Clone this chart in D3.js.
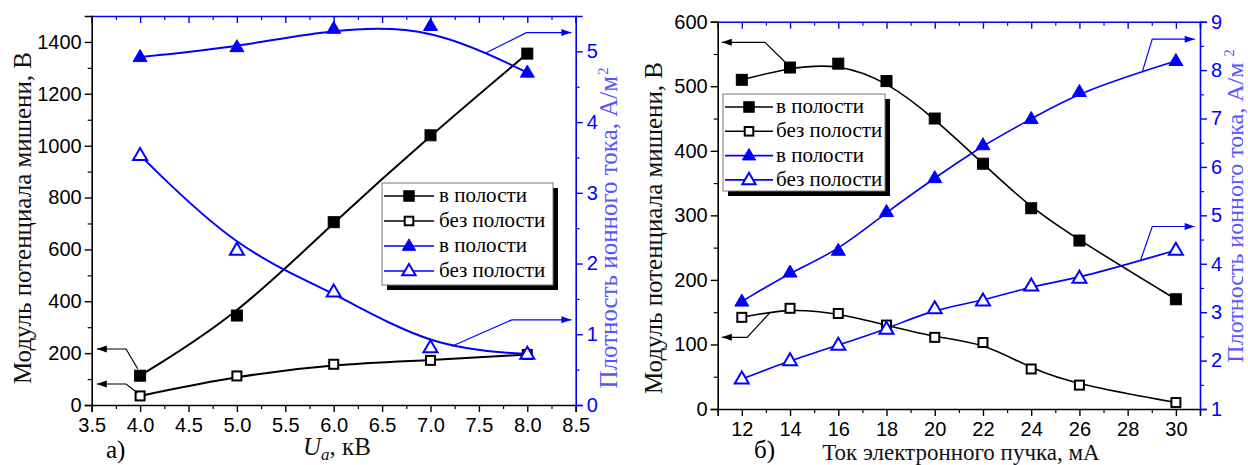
<!DOCTYPE html>
<html><head><meta charset="utf-8">
<script src="https://cdn.jsdelivr.net/npm/d3@7/dist/d3.min.js"></script>
<style>body{margin:0;background:#fff}svg{display:block}</style>
</head><body>
<svg id="c" width="1248" height="465"></svg>
<script>
// ---------- Panel (a) data ----------
const uaKV = [4.0, 5.0, 6.0, 7.0, 8.0];
const potWithCavityA = [113, 345, 705, 1040, 1355];
const potNoCavityA = [35, 112, 157, 172, 195];
const densWithCavityA = [4.92, 5.06, 5.32, 5.36, 4.70];
const densNoCavityA = [3.53, 2.19, 1.60, 0.81, 0.72];
const xTicksA = [3.5, 4.0, 4.5, 5.0, 5.5, 6.0, 6.5, 7.0, 7.5, 8.0, 8.5];
const yLTicksA = [0, 200, 400, 600, 800, 1000, 1200, 1400];
const yRTicksA = [0, 1, 2, 3, 4, 5];

// ---------- Panel (б) data ----------
const beamCurrent = [12, 14, 16, 18, 20, 22, 24, 26, 30];
const potWithCavityB = [510, 529, 535, 508, 450, 380, 311, 261, 170];
const potNoCavityB = [142, 156, 148, 130, 111, 103, 62, 37, 10];
const densWithCavityB = [3.22, 3.82, 4.27, 5.07, 5.77, 6.45, 6.99, 7.55, 8.19];
const densNoCavityB = [1.62, 2.00, 2.32, 2.65, 3.07, 3.23, 3.54, 3.70, 4.28];
const xTicksB = [12, 14, 16, 18, 20, 22, 24, 26, 28, 30];
const yLTicksB = [0, 100, 200, 300, 400, 500, 600];
const yRTicksB = [1, 2, 3, 4, 5, 6, 7, 8, 9];

const legendNames = ["в полости", "без полости", "в полости", "без полости"];

// annotation arrows (data units of the axis they point to)
const arrowsA = [
  {axis: "L", pts: [[3.975, 140], [3.855, 216], [3.553, 216]]},
  {axis: "L", pts: [[3.975, 46], [3.855, 81], [3.553, 81]]},
  {axis: "R", pts: [[7.56, 4.97], [7.99, 5.265], [8.455, 5.265]]},
  {axis: "R", pts: [[7.22, 0.83], [7.84, 1.204], [8.455, 1.204]]}
];
const arrowsB = [
  {axis: "L", pts: [[13.78, 538], [12.96, 568], [11.17, 568]]},
  {axis: "L", pts: [[13.16, 149], [12.22, 111], [11.17, 111]]},
  {axis: "R", pts: [[28.61, 7.97], [29.02, 8.64], [30.78, 8.64]]},
  {axis: "R", pts: [[28.54, 4.08], [29.02, 4.77], [30.78, 4.77]]}
];

const BLUE = "#0000ff";
const SANS = "'Liberation Sans', Arial, sans-serif";
const SERIF = "'Liberation Serif', 'Times New Roman', serif";
const svg = d3.select("#c");

function styleAxis(sel, color, fs) {
  sel.select(".domain").attr("stroke", color).attr("stroke-width", 1.6);
  sel.selectAll(".tick line").attr("stroke", color).attr("stroke-width", 1.4);
  sel.selectAll(".tick text").attr("fill", color).style("font-family", SANS).style("font-size", fs + "px");
}

function marker(g, type, filled, color, cx, cy, scale) {
  const s = scale || 1;
  if (type === "sq") {
    const a = filled ? 11 * s : 9 * s;
    g.append("rect").attr("x", cx - a / 2).attr("y", cy - a / 2).attr("width", a).attr("height", a)
      .attr("fill", filled ? color : "#fff").attr("stroke", color).attr("stroke-width", filled ? 1 : 2);
  } else {
    const w = 14 * s, h = 12 * s;
    const path = `M${cx},${cy - h * 0.62}L${cx + w / 2},${cy + h * 0.38}L${cx - w / 2},${cy + h * 0.38}Z`;
    g.append("path").attr("d", path).attr("fill", filled ? color : "#fff")
      .attr("stroke", color).attr("stroke-width", filled ? 1 : 2).attr("stroke-linejoin", "miter");
  }
}

function arrow(g, pts, color) {
  g.append("path").attr("d", d3.line()(pts)).attr("fill", "none").attr("stroke", color).attr("stroke-width", 1.2);
  const [p1, p2] = [pts[pts.length - 2], pts[pts.length - 1]];
  const ang = Math.atan2(p2[1] - p1[1], p2[0] - p1[0]);
  const L = 10, W = 3.5;
  const bx = p2[0] - L * Math.cos(ang), by = p2[1] - L * Math.sin(ang);
  const nx = -Math.sin(ang) * W, ny = Math.cos(ang) * W;
  g.append("path").attr("d", `M${p2[0]},${p2[1]}L${bx + nx},${by + ny}L${bx - nx},${by - ny}Z`).attr("fill", color);
}

function drawPanel(p) {
  const g = svg.append("g");
  const x = d3.scaleLinear().domain(p.xDomain).range([p.left, p.right]);
  const yL = d3.scaleLinear().domain(p.yLDomain).range([p.bottom, p.top]);
  const yR = d3.scaleLinear().domain(p.yRDomain).range([p.bottom, p.top]);

  const minor = (ax, vals, len, color, tr) => {
    const a = g.append("g").attr("transform", tr).call(ax.tickValues(vals).tickSize(len).tickFormat(""));
    a.select(".domain").remove();
    a.selectAll(".tick line").attr("stroke", color).attr("stroke-width", 1.2);
  };
  minor(d3.axisBottom(x), p.xMinor, 4, "#000", `translate(0,${p.bottom})`);
  minor(d3.axisTop(x), p.xMinor, -4, BLUE, `translate(0,${p.top})`);
  minor(d3.axisLeft(yL), p.yLMinor, 4, "#000", `translate(${p.left},0)`);
  minor(d3.axisRight(yR), p.yRMinor, 4, BLUE, `translate(${p.right},0)`);

  g.append("g").attr("transform", `translate(0,${p.bottom})`)
    .call(d3.axisBottom(x).tickValues(p.xTicks).tickFormat(p.xFmt).tickSize(7).tickPadding(6))
    .call(s => styleAxis(s, "#000", 20));
  g.append("g").attr("transform", `translate(0,${p.top})`)
    .call(d3.axisTop(x).tickValues(p.xTicks).tickFormat("").tickSize(-7))
    .call(s => styleAxis(s, BLUE, 20));
  g.append("g").attr("transform", `translate(${p.left},0)`)
    .call(d3.axisLeft(yL).tickValues(p.yLTicks).tickFormat(d3.format("d")).tickSize(7).tickPadding(3))
    .call(s => styleAxis(s, "#000", 20));
  g.append("g").attr("transform", `translate(${p.right},0)`)
    .call(d3.axisRight(yR).tickValues(p.yRTicks).tickFormat(d3.format("d")).tickSize(7).tickPadding(4))
    .call(s => styleAxis(s, BLUE, 20));

  p.series.forEach(s => {
    const y = s.axis === "L" ? yL : yR;
    const pts = p.xs.map((v, i) => [x(v), y(s.values[i])]);
    g.append("path").attr("d", d3.line().curve(d3.curveBasis)(pts))
      .attr("fill", "none").attr("stroke", s.color).attr("stroke-width", p.lw);
  });
  p.series.forEach(s => {
    const y = s.axis === "L" ? yL : yR;
    p.xs.forEach((v, i) => marker(g, s.type, s.filled, s.color, x(v), y(s.values[i])));
  });

  p.arrows.forEach(a => {
    const y = a.axis === "L" ? yL : yR;
    arrow(g, a.pts.map(d => [x(d[0]), y(d[1])]), a.axis === "L" ? "#000" : BLUE);
  });

  const lg = g.append("g").attr("transform", `translate(${p.leg.x},${p.leg.y})`);
  lg.append("rect").attr("x", 5).attr("y", 5).attr("width", p.leg.w).attr("height", p.leg.h).attr("fill", "#000");
  lg.append("rect").attr("x", 0).attr("y", 0).attr("width", p.leg.w).attr("height", p.leg.h)
    .attr("fill", "#fff").attr("stroke", "#777").attr("stroke-width", 1);
  p.series.forEach((s, i) => {
    const yy = p.leg.row0 + i * p.leg.dy;
    lg.append("line").attr("x1", 2).attr("x2", p.leg.lineW).attr("y1", yy).attr("y2", yy)
      .attr("stroke", s.color).attr("stroke-width", 1.6);
    marker(lg, s.type, s.filled, s.color, p.leg.lineW / 2 + 1, yy, 0.95);
    lg.append("text").attr("x", p.leg.textX).attr("y", yy + 6).text(legendNames[i])
      .style("font-family", SERIF).style("font-size", "21px").attr("fill", "#000");
  });

  g.append("text").attr("transform", `translate(${p.yLTitle.x},${p.yLTitle.y}) rotate(-90)`)
    .attr("text-anchor", "middle").style("font-family", SERIF).style("font-size", p.yLTitle.fs + "px")
    .attr("fill", "#111").text("Модуль потенциала мишени, В");
  const rt = g.append("text").attr("transform", `translate(${p.yRTitle.x},${p.yRTitle.y}) rotate(-90)`)
    .attr("text-anchor", "middle").style("font-family", SERIF).style("font-size", p.yRTitle.fs + "px")
    .attr("fill", "#5555ff");
  rt.append("tspan").text("Плотность ионного тока, А/м");
  rt.append("tspan").attr("dy", -9).style("font-size", (p.yRTitle.fs * 0.6) + "px").attr("dx", p.yRTitle.supDx).text("2");
  return g;
}

// Panel (a)
drawPanel({
  left: 91.7, right: 575.7, top: 16, bottom: 405,
  xDomain: [3.5, 8.5], yLDomain: [0, 1500], yRDomain: [0, 5.5],
  xTicks: xTicksA, xMinor: d3.range(3.75, 8.5, 0.5), xFmt: d3.format(".1f"),
  yLTicks: yLTicksA, yLMinor: d3.range(100, 1500, 200),
  yRTicks: yRTicksA, yRMinor: d3.range(0.5, 5.5, 1),
  xs: uaKV, lw: 2,
  series: [
    {values: potWithCavityA, axis: "L", color: "#000", type: "sq", filled: true},
    {values: potNoCavityA, axis: "L", color: "#000", type: "sq", filled: false},
    {values: densWithCavityA, axis: "R", color: BLUE, type: "tri", filled: true},
    {values: densNoCavityA, axis: "R", color: BLUE, type: "tri", filled: false}
  ],
  arrows: arrowsA,
  leg: {x: 382, y: 183, w: 171, h: 102, row0: 13, dy: 25, lineW: 52, textX: 57},
  yLTitle: {x: 31, y: 218, fs: 25},
  yRTitle: {x: 617, y: 228, fs: 25, supDx: 1}
});
const xtA = svg.append("text").attr("x", 337).attr("y", 455).attr("text-anchor", "middle")
  .style("font-family", SERIF).style("font-size", "25px").attr("fill", "#111");
xtA.append("tspan").style("font-style", "italic").text("U");
xtA.append("tspan").style("font-style", "italic").style("font-size", "17px").attr("dy", 5).text("a");
xtA.append("tspan").attr("dy", -5).text(", кВ");
svg.append("text").attr("x", 106).attr("y", 458).style("font-family", SERIF).style("font-size", "25px").attr("fill", "#000").text("а)");

// Panel (б)
drawPanel({
  left: 717.7, right: 1200, top: 21.7, bottom: 409,
  xDomain: [11, 31], yLDomain: [0, 600], yRDomain: [1, 9],
  xTicks: xTicksB, xMinor: d3.range(11, 32, 2), xFmt: d3.format("d"),
  yLTicks: yLTicksB, yLMinor: d3.range(50, 600, 100),
  yRTicks: yRTicksB, yRMinor: d3.range(1.5, 9, 1),
  xs: beamCurrent, lw: 1.6,
  series: [
    {values: potWithCavityB, axis: "L", color: "#000", type: "sq", filled: true},
    {values: potNoCavityB, axis: "L", color: "#000", type: "sq", filled: false},
    {values: densWithCavityB, axis: "R", color: BLUE, type: "tri", filled: true},
    {values: densNoCavityB, axis: "R", color: BLUE, type: "tri", filled: false}
  ],
  arrows: arrowsB,
  leg: {x: 723, y: 94, w: 162, h: 97, row0: 13, dy: 24.3, lineW: 50, textX: 53},
  yLTitle: {x: 662, y: 228, fs: 25},
  yRTitle: {x: 1243, y: 206, fs: 24, supDx: 6}
});
svg.append("text").attr("x", 961).attr("y", 460).attr("text-anchor", "middle")
  .style("font-family", SERIF).style("font-size", "23px").attr("fill", "#111").text("Ток электронного пучка, мА");
svg.append("text").attr("x", 754).attr("y", 458).style("font-family", SERIF).style("font-size", "25px").attr("fill", "#000").text("б)");
</script>
</body></html>
